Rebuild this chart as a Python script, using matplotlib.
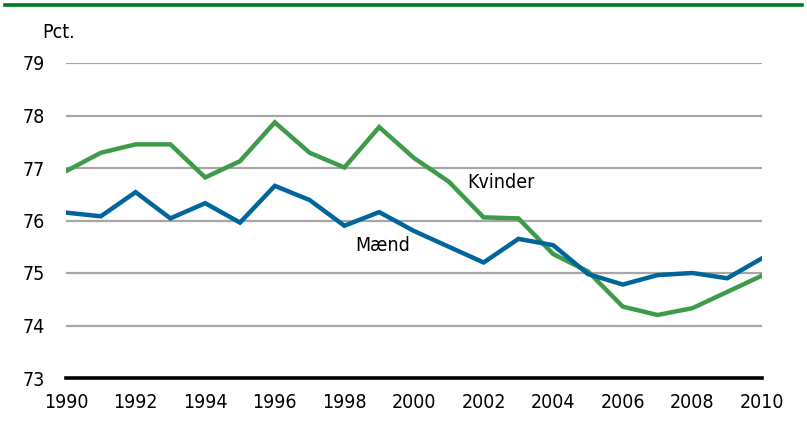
import matplotlib
matplotlib.use("Agg")
import matplotlib.pyplot as plt
from matplotlib.lines import Line2D

plt.rcParams['font.family'] = ['DejaVu Sans']
plt.rcParams['font.stretch'] = 'condensed'

years = list(range(1990, 2011))
kvinder = [76.94, 77.29, 77.45, 77.45, 76.82, 77.13, 77.87, 77.29, 77.01, 77.78,
           77.19, 76.74, 76.06, 76.04, 75.36, 75.03, 74.36, 74.20, 74.33, 74.64, 74.95]
maend = [76.15, 76.08, 76.54, 76.04, 76.33, 75.96, 76.66, 76.39, 75.90, 76.16,
         75.80, 75.50, 75.20, 75.65, 75.53, 74.98, 74.78, 74.96, 75.00, 74.90, 75.28]
xticks = list(range(1990, 2011, 2))
yticks = [73, 74, 75, 76, 77, 78, 79]

green = '#3d9b4a'
blue = '#00659a'

fig = plt.figure(figsize=(8.07, 4.21), dpi=100)
ax = fig.add_axes([66/807, 1-378/421, (762-66)/807, (378-63)/421])

for y in yticks[1:]:
    ax.axhline(y, color='#a6a6a6', lw=1.6, zorder=1)

ax.plot(years, kvinder, color=green, lw=3.2, zorder=3, solid_joinstyle='miter')
ax.plot(years, maend, color=blue, lw=3.2, zorder=4, solid_joinstyle='miter')

ax.set_xlim(1990, 2010)
ax.set_ylim(73, 79)
ax.set_xticks(xticks)
ax.set_yticks(yticks)
ax.tick_params(length=0, labelsize=14, colors='black')
ax.tick_params(axis='x', pad=11)
ax.tick_params(axis='y', pad=15)
for s in ['top', 'right', 'left']:
    ax.spines[s].set_visible(False)
ax.spines['bottom'].set_linewidth(2.6)
ax.spines['bottom'].set_color('black')

ax.text(2001.52, 76.73, 'Kvinder', fontsize=14, va='center', ha='left')
ax.text(1998.3, 75.53, 'Mænd', fontsize=14, va='center', ha='left')
fig.text(42/807, 1-32/421, 'Pct.', fontsize=14, va='center', ha='left')

fig.add_artist(Line2D([5/807, 802/807], [1-5/421, 1-5/421], color='#007a1e', lw=2.6))

fig.savefig('out.png', dpi=100)
